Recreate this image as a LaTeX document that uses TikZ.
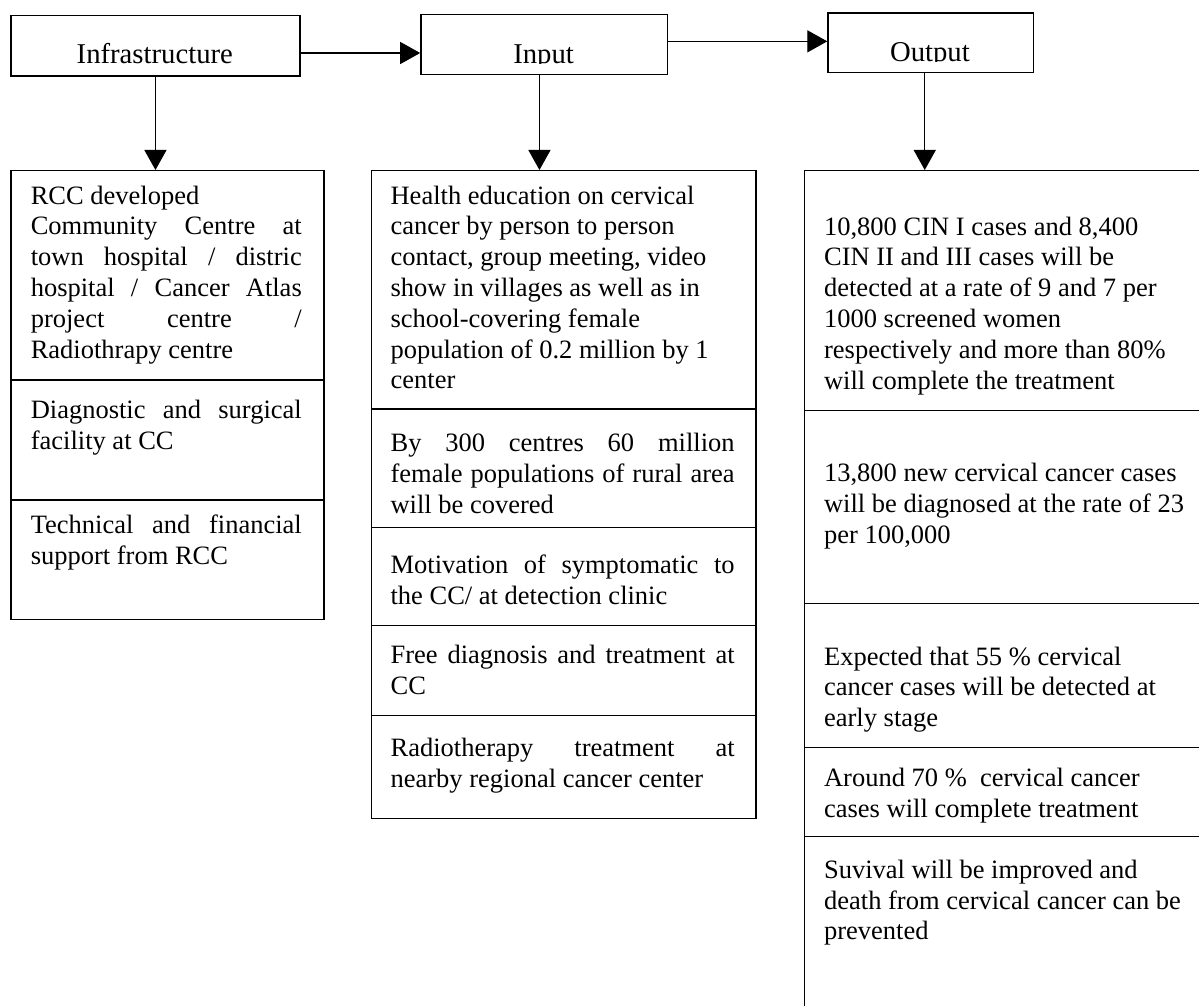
\documentclass[tikz,border=0pt]{standalone}
\usepackage{fontspec}
\setmainfont{Liberation Serif}
\usetikzlibrary{arrows.meta}
\newcommand\jl[2]{\makebox[#1pt][s]{#2}}
\begin{document}
\begin{tikzpicture}[x=1pt,y=-1pt,
  hdr/.style={draw, line width=1.3pt, inner sep=0pt, anchor=north west},
  cell/.style={draw, line width=1.3pt, inner sep=0pt, anchor=north west},
  txt/.style={anchor=base west, inner sep=0pt, font=\fontsize{26.5}{30.8}\selectfont},
  htxt/.style={anchor=base, inner sep=0pt, font=\fontsize{28.7}{32}\selectfont},
  arr/.style={line width=1.3pt, -{Triangle[length=20pt,width=22pt]}}]
\useasboundingbox (0,0) rectangle (1199,1006);
\clip (0,0) rectangle (1199,1006);
\fill[white] (0,0) rectangle (1199,1006);

% header boxes
\node[hdr, minimum width=289pt, minimum height=60.3pt] (infra) at (10.3,15) {};
\node[hdr, minimum width=246.8pt, minimum height=60.3pt] (input) at (420.2,13.7) {};
\node[hdr, minimum width=205.2pt, minimum height=59.7pt] (output) at (827.3,12.3) {};

\begin{scope}
\clip (10.3,15) rectangle (299.3,63.8);
\node[htxt] (infrat) at (154.8,63.3) {Infrastructure};
\end{scope}
\begin{scope}
\clip (420.2,13.7) rectangle (667,63.8);
\node[htxt] (inputt) at (543.6,63.3) {Input};
\end{scope}
\begin{scope}
\clip (827.3,12.3) rectangle (1032.5,62);
\node[htxt] (outputt) at (929.9,61.5) {Output};
\end{scope}

% left column
\node[cell, minimum width=313.1pt, minimum height=209.3pt] (L1) at (10.3,170) {};
\node[cell, minimum width=313.1pt, minimum height=120pt] (L2) at (10.3,379.3) {};
\node[cell, minimum width=313.1pt, minimum height=119.7pt] (L3) at (10.3,499.3) {};

% middle column
\node[cell, minimum width=384.9pt, minimum height=238.3pt] (M1) at (370.5,170) {};
\node[cell, minimum width=384.9pt, minimum height=118.4pt] (M2) at (370.5,408.3) {};
\node[cell, minimum width=384.9pt, minimum height=98.3pt] (M3) at (370.5,526.7) {};
\node[cell, minimum width=384.9pt, minimum height=90pt] (M4) at (370.5,625) {};
\node[cell, minimum width=384.9pt, minimum height=103pt] (M5) at (370.5,715) {};

% right column (runs past the right and bottom edges)
\node[cell, minimum width=420pt, minimum height=240pt] (R1) at (803.6,170) {};
\node[cell, minimum width=420pt, minimum height=193pt] (R2) at (803.6,410) {};
\node[cell, minimum width=420pt, minimum height=144pt] (R3) at (803.6,603) {};
\node[cell, minimum width=420pt, minimum height=89pt] (R4) at (803.6,747) {};
\node[cell, minimum width=420pt, minimum height=200pt] (R5) at (803.6,836) {};

% texts left
\node[txt] (L1t) at (30.6,204) {\parbox[t]{500pt}{\raggedright
RCC developed\\
\jl{271}{Community Centre at}\\
\jl{271}{town hospital / distric}\\
\jl{271}{hospital / Cancer Atlas}\\
\jl{271}{project centre /}\\
Radiothrapy centre}};
\node[txt] (L2t) at (30.6,418.3) {\parbox[t]{500pt}{\raggedright
\jl{271}{Diagnostic and surgical}\\
facility at CC}};
\node[txt] (L3t) at (30.6,533.3) {\parbox[t]{500pt}{\raggedright
\jl{271}{Technical and financial}\\
support from RCC}};

% texts middle
\node[txt] (M1t) at (390.4,204) {\parbox[t]{500pt}{\raggedright
Health education on cervical\\
cancer by person to person\\
contact, group meeting, video\\
show in villages as well as in\\
school-covering female\\
population of 0.2 million by 1\\
center}};
\node[txt] (M2t) at (390.4,451.7) {\parbox[t]{500pt}{\raggedright
\jl{344}{By 300 centres 60 million}\\
\jl{344}{female populations of rural area}\\
will be covered}};
\node[txt] (M3t) at (390.4,573.3) {\parbox[t]{500pt}{\raggedright
\jl{344}{Motivation of symptomatic to}\\
the CC/ at detection clinic}};
\node[txt] (M4t) at (390.4,663.3) {\parbox[t]{500pt}{\raggedright
\jl{344}{Free diagnosis and treatment at}\\
CC}};
\node[txt] (M5t) at (390.4,756.7) {\parbox[t]{500pt}{\raggedright
\jl{344}{Radiotherapy treatment at}\\
nearby regional cancer center}};

% texts right
\node[txt] (R1t) at (823.9,235) {\parbox[t]{500pt}{\raggedright
10,800 CIN I cases and 8,400\\
CIN II and III cases will be\\
detected at a rate of 9 and 7 per\\
1000 screened women\\
respectively and more than 80\%\\
will complete the treatment}};
\node[txt] (R2t) at (823.9,481.7) {\parbox[t]{500pt}{\raggedright
13,800 new cervical cancer cases\\
will be diagnosed at the rate of 23\\
per 100,000}};
\node[txt] (R3t) at (823.9,665) {\parbox[t]{500pt}{\raggedright
Expected that 55 \% cervical\\
cancer cases will be detected at\\
early stage}};
\node[txt] (R4t) at (823.9,786.7) {\parbox[t]{500pt}{\raggedright
Around 70 \%\ \ cervical cancer\\
cases will complete treatment}};
\node[txt] (R5t) at (823.9,878.3) {\parbox[t]{500pt}{\raggedright
Suvival will be improved and\\
death from cervical cancer can be\\
prevented}};

% connectors
\draw[arr] ([yshift=-7.2pt]infra.east) -- ([yshift=-8.5pt]input.west);
\draw[arr] ([yshift=3.15pt]input.east) -- ([yshift=1.45pt]output.west);
\draw[arr] (infra.south) -- (infra.south |- L1.north);
\draw[arr] ([xshift=-4.8pt]input.south) -- ([xshift=-4.8pt]input.south |- M1.north);
\draw[arr] ([xshift=-5.8pt]output.south) -- ([xshift=-5.8pt]output.south |- R1.north);
\end{tikzpicture}
\end{document}
